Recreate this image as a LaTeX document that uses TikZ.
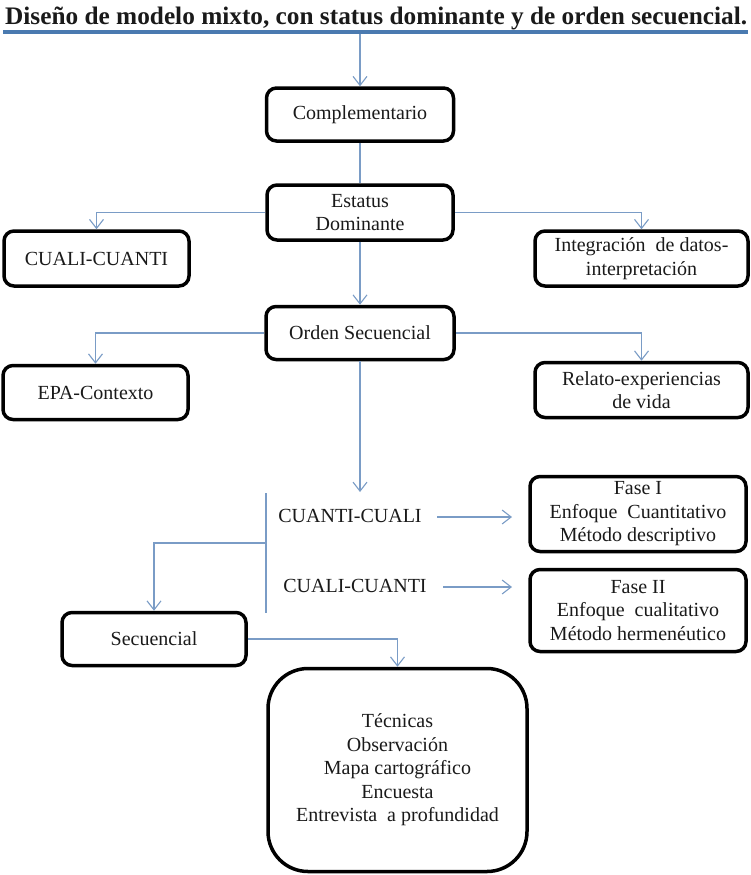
\documentclass[tikz,border=0pt]{standalone}
\usepackage{fontspec}
\setmainfont{Liberation Serif}
\usetikzlibrary{arrows.meta}
\definecolor{conn}{HTML}{7A9CC6}
\definecolor{rulecol}{HTML}{4A7AB0}
\definecolor{txt}{HTML}{1A1A1A}
\begin{document}
\begin{tikzpicture}[x=1pt,y=-1pt,
  every node/.style={text=txt, font=\fontsize{20}{23.5}\selectfont},
  box/.style={draw=black, line width=3.5pt, rounded corners=10pt, align=center, inner sep=0pt, fill=white},
  plain/.style={inner sep=0pt, align=center},
  conn/.style={draw=conn, line width=1.1pt},
  arr/.style={conn, -{Straight Barb[length=9pt,width=14pt,line width=1.1pt]}}]
\fill[white] (0,0) rectangle (751,875);
\useasboundingbox (0,0) rectangle (751,875);

% title and rule
\node[plain, anchor=north west] (title) at (5,7) {\resizebox*{742pt}{23pt}{\bfseries Diseño de modelo mixto, con status dominante y de orden secuencial.}};
\coordinate (ruleL) at (3,32);
\coordinate (ruleR) at (748,32);
\draw[rulecol, line width=4pt] (ruleL) -- (ruleR);
\coordinate (top) at (360,34);

% boxes
\node[box, minimum width=187pt, minimum height=53pt] (comp) at (360,114.5) {Complementario};
\node[box, minimum width=186pt, minimum height=55pt] (est) at (360,212.5) {Estatus\\Dominante};
\node[box, minimum width=185pt, minimum height=55pt] (cc1) at (96.5,258.5) {CUALI-CUANTI};
\node[box, minimum width=213pt, minimum height=55pt] (integ) at (641.5,258.5) {Integración\ \ de datos-\\interpretación};
\node[box, minimum width=188pt, minimum height=53pt] (orden) at (360,333) {Orden Secuencial};
\node[box, minimum width=185pt, minimum height=54pt] (epa) at (95.5,392.5) {EPA-Contexto};
\node[box, minimum width=213pt, minimum height=55pt] (relato) at (641.5,390) {Relato-experiencias\\de vida};
\node[box, minimum width=216pt, minimum height=75pt] (fase1) at (638,514) {Fase I\\Enfoque\ \ Cuantitativo\\Método descriptivo};
\node[box, minimum width=216pt, minimum height=82pt] (fase2) at (638,610.5) {Fase II\\Enfoque\ \ cualitativo\\Método hermenéutico};
\node[box, minimum width=184pt, minimum height=53pt] (sec) at (154,639) {Secuencial};
\node[box, rounded corners=40pt, minimum width=259pt, minimum height=203pt] (tec) at (397.5,770) {Técnicas\\Observación\\Mapa cartográfico\\Encuesta\\Entrevista\ \ a profundidad};

% labels
\node[plain] (cuanticuali) at (350,516) {CUANTI-CUALI};
\node[plain] (cualicuanti) at (355,586) {CUALI-CUANTI};

% helper coordinates
\coordinate (ordenEnd) at (360,492);
\coordinate (brTop) at (266,493);
\coordinate (brBot) at (266,613);
\coordinate (brMid) at (266,543);
\coordinate (a1s) at (437,517);
\coordinate (a1e) at (512,517);
\coordinate (a2s) at (443,587);
\coordinate (a2e) at (512,587);

% connectors
\draw[arr] (top) -- (comp.north);
\draw[conn] (comp.south) -- (est.north);
\draw[arr] (est.west) -| (cc1.north);
\draw[arr] (est.east) -| (integ.north);
\draw[arr] (est.south) -- (orden.north);
\draw[arr] (orden.west) -| (epa.north);
\draw[arr] (orden.east) -| (relato.north);
\draw[arr] (orden.south) -- (ordenEnd);
\draw[conn] (brTop) -- (brBot);
\draw[arr] (brMid) -| (sec.north);
\draw[arr] (a1s) -- (a1e);
\draw[arr] (a2s) -- (a2e);
\draw[arr] (sec.east) -| (tec.north);
\end{tikzpicture}
\end{document}
